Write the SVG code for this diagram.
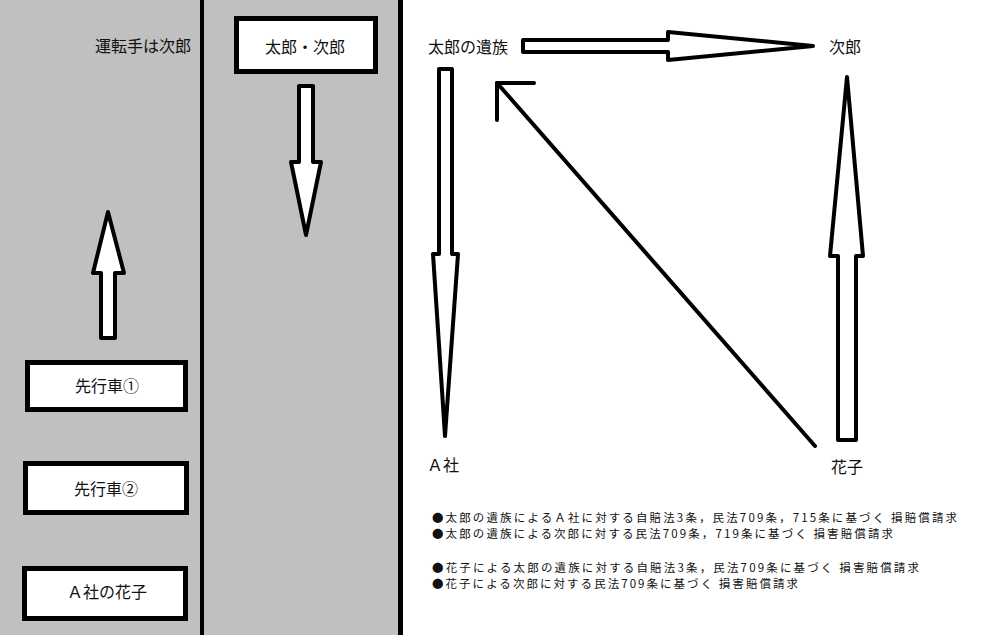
<svg xmlns="http://www.w3.org/2000/svg" width="993" height="635" viewBox="0 0 993 635">
<style>
.lbl{font-family:"Noto Sans CJK JP","Noto Sans CJK SC",sans-serif;font-size:16px;fill:#111}
.note{font-family:"Noto Sans CJK JP","Noto Sans CJK SC",sans-serif;font-size:11.5px;fill:#111}
.box{fill:#fff;stroke:#000;stroke-width:5}
.arr{fill:#fff;stroke:#000;stroke-width:4;stroke-linejoin:round}
.ln{fill:none;stroke:#000;stroke-width:4;stroke-linecap:round;stroke-linejoin:round}
</style>
<rect x="0" y="0" width="993" height="635" fill="#fff"/>
<rect x="0" y="0" width="400" height="635" fill="#c0c0c0"/>
<line x1="202" y1="0" x2="202" y2="635" stroke="#000" stroke-width="4"/>
<line x1="400.5" y1="0" x2="400.5" y2="635" stroke="#000" stroke-width="5"/>

<g id="driver-label"><text class="lbl" x="191" y="52" text-anchor="end">運転手は次郎</text></g>
<g id="taro-jiro"><rect class="box" x="236.5" y="18.5" width="139" height="53"/><text class="lbl" x="305" y="53" text-anchor="middle">太郎・次郎</text></g>
<g id="car1"><rect class="box" x="27.5" y="362.5" width="158" height="47"/><text class="lbl" x="107" y="392" text-anchor="middle">先行車①</text></g>
<g id="car2"><rect class="box" x="25.5" y="463.5" width="161" height="49"/><text class="lbl" x="106" y="495" text-anchor="middle">先行車②</text></g>
<g id="hanako-car"><rect class="box" x="24.5" y="568.5" width="161" height="50"/><text class="lbl" x="107" y="598" text-anchor="middle">Ａ社の花子</text></g>

<g id="taro-family"><text class="lbl" x="468" y="53" text-anchor="middle">太郎の遺族</text></g>
<g id="jiro"><text class="lbl" x="845" y="53" text-anchor="middle">次郎</text></g>
<g id="a-sha"><text class="lbl" x="443" y="471" text-anchor="middle">Ａ社</text></g>
<g id="hanako"><text class="lbl" x="847" y="473" text-anchor="middle">花子</text></g>

<g id="connectors">
<polygon class="arr" points="299,86 313,86 313,162 321,162 306,235 291,162 299,162"/>
<polygon class="arr" points="101,338 115,338 115,273 124,273 108,212 93,273 101,273"/>
<polygon class="arr" points="523,40 668,40 668,32 813,46 668,60 668,52 523,52"/>
<polygon class="arr" points="439,69 452,69 452,254 458,254 445,436 433,254 439,254"/>
<polygon class="arr" points="838,440 856,440 856,256 863,256 847,77 830,256 838,256"/>
<line class="ln" x1="815" y1="446" x2="497" y2="83"/>
<polyline class="ln" points="534,83 497,83 497,120"/>
</g>

<g id="notes">
<text class="note" x="432" y="521.5" textLength="525" lengthAdjust="spacing">●太郎の遺族によるＡ社に対する自賠法3条，民法709条，715条に基づく 損賠償請求</text>
<text class="note" x="432" y="537.5" textLength="461" lengthAdjust="spacing">●太郎の遺族による次郎に対する民法709条，719条に基づく 損害賠償請求</text>
<text class="note" x="432" y="571.5" textLength="487" lengthAdjust="spacing">●花子による太郎の遺族に対する自賠法3条，民法709条に基づく 損害賠償請求</text>
<text class="note" x="432" y="587.5" textLength="366" lengthAdjust="spacing">●花子による次郎に対する民法709条に基づく 損害賠償請求</text>
</g>
</svg>
